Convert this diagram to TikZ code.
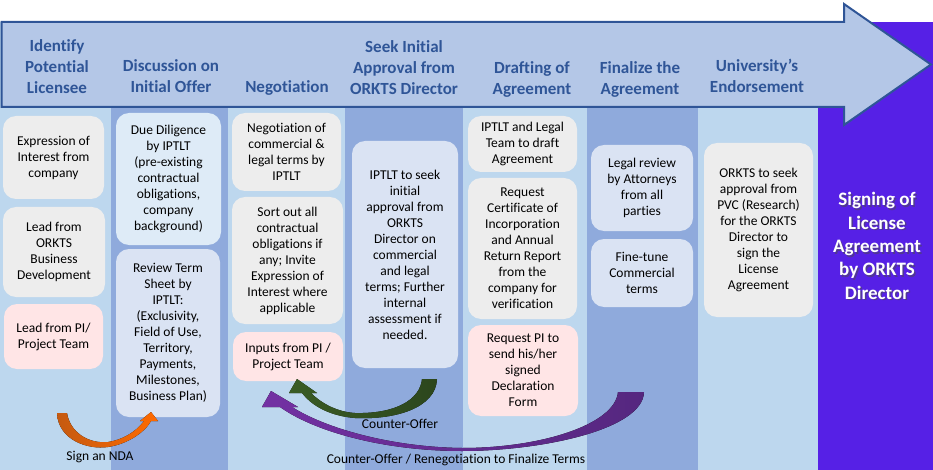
\documentclass[tikz,border=0pt]{standalone}
\usepackage{fontspec}
\setmainfont{Carlito}[Ligatures=NoCommon]
\definecolor{collight}{HTML}{BDD7EE}
\definecolor{colmed}{HTML}{8FAADC}
\definecolor{colpurple}{HTML}{5620E6}
\definecolor{arrfill}{HTML}{B4C7E7}
\definecolor{arrline}{HTML}{2F5597}
\definecolor{boxgray}{HTML}{EDEDED}
\definecolor{boxpink}{HTML}{FFE5E6}
\definecolor{boxblueA}{HTML}{DEEBF7}
\definecolor{boxblueB}{HTML}{DAE3F3}
\definecolor{ndaA}{HTML}{C55A11}
\definecolor{ndaB}{HTML}{FF6A00}
\definecolor{cgA}{HTML}{3A5C25}
\definecolor{cgB}{HTML}{2C461D}
\definecolor{cpA}{HTML}{7331A3}
\definecolor{cpB}{HTML}{55277F}
\tikzset{
  hdr/.style={font=\fontsize{17}{21}\selectfont\bfseries, text=arrline, align=center, inner sep=0pt, anchor=base},
  card/.style={rounded corners=13pt, inner sep=0pt, align=center, font=\fontsize{13.5}{16}\selectfont, text=black},
  graycard/.style={card, fill=boxgray},
  pinkcard/.style={card, fill=boxpink},
  bluecardA/.style={card, fill=boxblueA},
  bluecardB/.style={card, fill=boxblueB},
  lbl/.style={font=\fontsize{13.5}{16}\selectfont, text=black, inner sep=0pt},
  sigtxt/.style={font=\fontsize{19}{23.3}\selectfont\bfseries, align=center, inner sep=0pt},
}
\begin{document}
\begin{tikzpicture}[x=1pt, y=-1pt]
\useasboundingbox (0,0) rectangle (933,470);
% columns
\fill[collight] (0,22) rectangle (111,470);
\fill[colmed] (111,22) rectangle (228,470);
\fill[collight] (228,22) rectangle (345,470);
\fill[colmed] (345,22) rectangle (463,470);
\fill[collight] (463,22) rectangle (587,470);
\fill[colmed] (587,22) rectangle (698,470);
\fill[collight] (698,22) rectangle (818,470);
\fill[colpurple] (818,22) rectangle (933,470);
% header arrow
\draw[fill=arrfill, draw=arrline, line width=2pt, line join=miter]
  (1.5,22) -- (844,22) -- (844,4) -- (931,64.5) -- (844,125) -- (844,107) -- (1.5,107) -- cycle;
% header texts (anchor = baseline of last line)
\node[hdr] (h1) at (57,93.5) {Identify\\Potential\\Licensee};
\node[hdr] (h2) at (171,92.5) {Discussion on\\Initial Offer};
\node[hdr] (h3) at (287,92.5) {Negotiation};
\node[hdr] (h4) at (404,94.5) {Seek Initial\\Approval from\\ORKTS Director};
\node[hdr] (h5) at (532,94.5) {Drafting of\\Agreement};
\node[hdr] (h6) at (640,94.5) {Finalize the\\Agreement};
\node[hdr] (h7) at (757,92.5) {University’s\\Endorsement};
% cards
\node[graycard, minimum width=101pt, minimum height=83pt] (a) at (53.5,157.5) {Expression of\\Interest from\\company};
\node[graycard, minimum width=102pt, minimum height=90pt] (b) at (54,252) {Lead from\\ORKTS\\Business\\Development};
\node[pinkcard, minimum width=99pt, minimum height=65pt] (c) at (53.5,336.5) {Lead from PI/\\Project Team};
\node[bluecardA, minimum width=105pt, minimum height=132pt] (d) at (168.5,179) {Due Diligence\\by IPTLT\\(pre-existing\\contractual\\obligations,\\company\\background)};
\node[bluecardB, minimum width=104pt, minimum height=168pt] (e) at (168,333) {Review Term\\Sheet by\\IPTLT:\\(Exclusivity,\\Field of Use,\\Territory,\\Payments,\\Milestones,\\Business Plan)};
\node[graycard, minimum width=109pt, minimum height=78pt] (f) at (286.5,152) {Negotiation of\\commercial \&\\legal terms by\\IPTLT};
\node[graycard, minimum width=111pt, minimum height=127pt] (g) at (287.5,260.5) {Sort out all\\contractual\\obligations if\\any; Invite\\Expression of\\Interest where\\applicable};
\node[pinkcard, minimum width=110pt, minimum height=49pt] (h) at (288,356.5) {Inputs from PI /\\Project Team};
\node[bluecardB, minimum width=106pt, minimum height=227pt] (i) at (405,254.5) {IPTLT to seek\\initial\\approval from\\ORKTS\\Director on\\commercial\\and legal\\terms; Further\\internal\\assessment if\\needed.};
\node[graycard, minimum width=109pt, minimum height=56pt] (j) at (522.5,144) {IPTLT and Legal\\Team to draft\\Agreement};
\node[graycard, minimum width=109pt, minimum height=141pt] (k) at (522.5,248.5) {Request\\Certificate of\\Incorporation\\and Annual\\Return Report\\from the\\company for\\verification};
\node[pinkcard, minimum width=110pt, minimum height=91pt] (l) at (523,370.5) {Request PI to\\send his/her\\signed\\Declaration\\Form};
\node[bluecardB, minimum width=102pt, minimum height=86pt] (m) at (642,188) {Legal review\\by Attorneys\\from all\\parties};
\node[bluecardB, minimum width=102pt, minimum height=68pt] (n) at (642,273) {Fine-tune\\Commercial\\terms};
\node[graycard, minimum width=109pt, minimum height=174pt] (o) at (758.5,230) {ORKTS to seek\\approval from\\PVC (Research)\\for the ORKTS\\Director to\\sign the\\License\\Agreement};
% final step text
\node[sigtxt, text=black!70, opacity=0.55] (sigshadow) at (878.5,247.5) {Signing of\\License\\Agreement\\by ORKTS\\Director};
\node[sigtxt, text=white] (sig) at (877,246) {Signing of\\License\\Agreement\\by ORKTS\\Director};
% curved arrows
\fill[left color=ndaA, right color=ndaB]
  (57,413) .. controls (58,440) and (88,450) .. (108,447)
  .. controls (128,444) and (145,432) .. (151,421)
  -- (158,421) -- (151,412) -- (140,421) -- (144,421)
  .. controls (136,432) and (122,440) .. (108,442)
  .. controls (88,444) and (70,432) .. (67,413) -- cycle;
\fill[left color=cgA, right color=cgB]
  (437,379) .. controls (436,408) and (395,420) .. (355,418)
  .. controls (330,416) and (312,406) .. (302,393)
  -- (289,393) -- (297,379) -- (317,393) -- (311,393)
  .. controls (322,404) and (338,412) .. (355,413)
  .. controls (395,414) and (420,400) .. (422,379) -- cycle;
\fill[left color=cpA, right color=cpB]
  (644,392) .. controls (643,430) and (540,451) .. (462,451)
  .. controls (385,451) and (315,432) .. (280,407)
  -- (262,407) -- (271,391) -- (298,407) -- (292,407)
  .. controls (325,428) and (390,447) .. (462,448)
  .. controls (540,448) and (615,425) .. (618,392) -- cycle;
% labels
\node[lbl] (ndalbl) at (100,457) {Sign an NDA};
\node[lbl] (colbl) at (400,424) {Counter-Offer};
\node[lbl] (renlbl) at (456,460) {Counter-Offer / Renegotiation to Finalize Terms};
\end{tikzpicture}
\end{document}
